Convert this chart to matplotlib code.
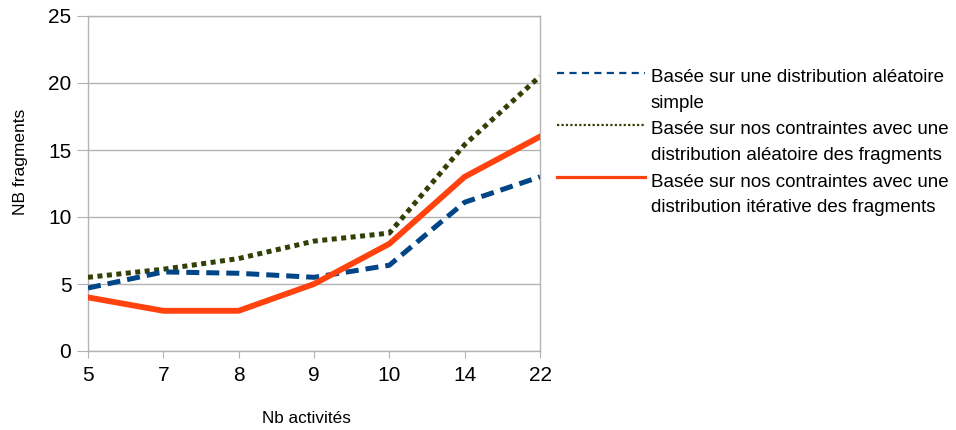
import matplotlib
matplotlib.use("Agg")
import matplotlib.pyplot as plt
from matplotlib.lines import Line2D

# data
NbActivites = ["5", "7", "8", "9", "10", "14", "22"]
Aleatoire = [4.7, 5.9, 5.8, 5.5, 6.4, 11.1, 13.0]
ContraintesAleatoire = [5.5, 6.1, 6.9, 8.2, 8.8, 15.4, 20.5]
ContraintesIterative = [4.0, 3.0, 3.0, 5.0, 8.0, 13.0, 16.0]

Labels = [["Basée sur une distribution aléatoire", "simple"],
          ["Basée sur nos contraintes avec une", "distribution aléatoire des fragments"],
          ["Basée sur nos contraintes avec une", "distribution itérative des fragments"]]

plt.rcParams["font.family"] = ["Liberation Sans", "DejaVu Sans"]

Grey = "#b3b3b3"
Blue = "#004586"
Olive = "#314004"
Orange = "#ff420e"

W, H = 956, 430
Figure = plt.figure(figsize=(W / 100, H / 100), dpi=100)
Ax = Figure.add_axes([88 / W, 79 / H, 452 / W, 335 / H])

X = range(len(NbActivites))
Ax.plot(X, ContraintesAleatoire, color=Olive, lw=3.6, linestyle=(0, (1, 0.9)), zorder=3)
Ax.plot(X, Aleatoire, color=Blue, lw=3.6, linestyle=(0, (2.6, 1.4)), zorder=4)
Ax.plot(X, ContraintesIterative, color=Orange, lw=4.2, solid_joinstyle="round", zorder=5)

Ax.set_xlim(0, len(NbActivites) - 1)
Ax.set_ylim(0, 25)
Ax.set_xticks(list(X))
Ax.set_xticklabels(NbActivites)
Ax.set_yticks(range(0, 26, 5))
Ax.grid(axis="y", color=Grey, lw=1)
Ax.set_axisbelow(True)
for Spine in Ax.spines.values():
    Spine.set_color(Grey)
    Spine.set_linewidth(1)
Ax.tick_params(axis="x", length=5, color=Grey, labelsize=15, pad=6)
Ax.tick_params(axis="y", length=8, color=Grey, labelsize=15, pad=4)

Ax.set_xlabel("Nb activités", fontsize=12.3)
Ax.xaxis.set_label_coords((306 - 88) / 452, (351 - 411) / 335)
Ax.set_ylabel("NB fragments", fontsize=12.5, va="center")
Ax.yaxis.set_label_coords((21 - 88) / 452, (351 - 162) / 335)

# legend drawn by hand so the line sits on the first text line
Styles = [dict(color=Blue, lw=1.6, linestyle=(0, (3.2, 2.4))),
          dict(color=Olive, lw=1.6, linestyle=(0, (1, 1))),
          dict(color=Orange, lw=2.3)]
for i, (Lines, Style) in enumerate(zip(Labels, Styles)):
    Y = 73.3 + 52 * i
    Figure.add_artist(Line2D([557 / W, 645 / W], [1 - Y / H, 1 - Y / H],
                             transform=Figure.transFigure, **Style))
    for j, Line in enumerate(Lines):
        Figure.text(651 / W, 1 - (Y + 9.2 + 26 * j) / H, Line, fontsize=13.5,
                    va="baseline", ha="left", transform=Figure.transFigure)

Figure.savefig("out.png", dpi=100)
